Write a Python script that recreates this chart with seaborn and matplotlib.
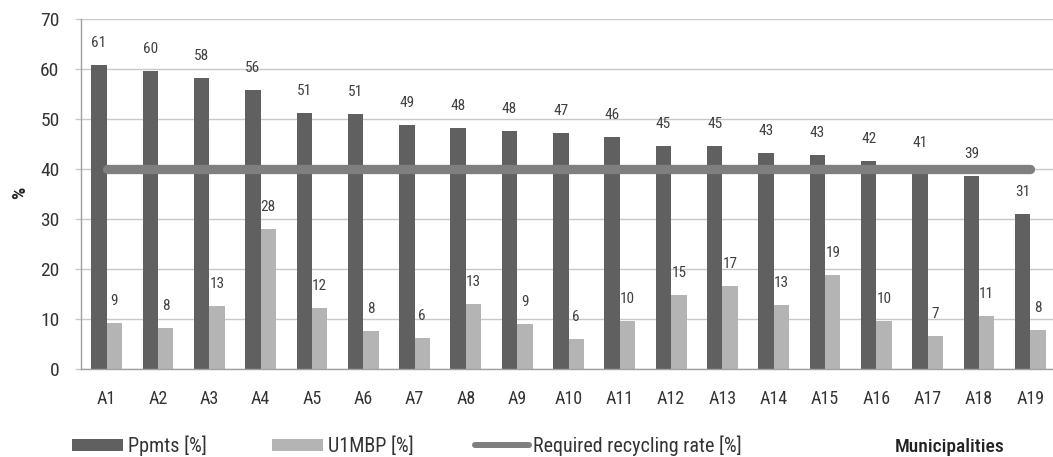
import numpy as np
import pandas as pd
import matplotlib
matplotlib.use("Agg")
import matplotlib.pyplot as plt
from matplotlib.patches import Patch
from matplotlib.lines import Line2D
import seaborn as sns

municipalities = [f"A{i}" for i in range(1, 20)]
ppmts = [60.9, 59.7, 58.2, 55.9, 51.3, 51.0, 48.9, 48.2, 47.7, 47.2,
         46.4, 44.7, 44.6, 43.3, 42.8, 41.6, 40.9, 38.6, 31.0]
u1mbp = [9.3, 8.2, 12.6, 28.1, 12.3, 7.6, 6.2, 13.1, 9.1, 6.0,
         9.7, 14.9, 16.6, 12.8, 18.9, 9.7, 6.6, 10.7, 7.9]
required_rate = [40] * len(municipalities)

series_names = ["Ppmts [%]", "U1MBP [%]"]
line_name = "Required recycling rate [%]"
dark, light, line_col = "#606060", "#b4b4b4", "#7f7f7f"

df = pd.DataFrame({
    "Municipality": municipalities * 2,
    "Series": [series_names[0]] * len(municipalities) + [series_names[1]] * len(municipalities),
    "Value": ppmts + u1mbp,
})

sns.set_theme(style="white")
plt.rcParams["font.family"] = ["Roboto Condensed", "Roboto", "DejaVu Sans"]

fig = plt.figure(figsize=(10.53, 4.57), dpi=100)
ax = fig.add_axes([81 / 1053, 88 / 457, 975 / 1053, 350 / 457])

sns.barplot(data=df, x="Municipality", y="Value", hue="Series",
            palette=[dark, light], width=0.6, saturation=1,
            linewidth=0, ax=ax, legend=False, zorder=2)

for cont in ax.containers:
    ax.bar_label(cont, fmt="%.0f", padding=10.5, fontsize=11, color="#404040")

sns.lineplot(x=np.arange(len(municipalities)), y=required_rate, color=line_col,
             linewidth=6.7, ax=ax, zorder=3, solid_capstyle="round")

ax.set_xlim(-0.5, len(municipalities) - 0.5)
ax.set_ylim(0, 70)
ax.set_yticks(range(0, 71, 10))
ax.yaxis.grid(True, color="#c8c8c8", linewidth=1)
ax.set_axisbelow(True)
for s in ["top", "right"]:
    ax.spines[s].set_visible(False)
for s in ["left", "bottom"]:
    ax.spines[s].set_color("#a0a0a0")
    ax.spines[s].set_linewidth(1)

ax.tick_params(axis="y", which="major", length=4.5, width=1, color="#c8c8c8",
               pad=11, labelsize=14, labelcolor="#333333", left=True)
ax.tick_params(axis="x", length=0, pad=15, labelsize=13, labelcolor="#333333")
ax.set_xlabel("")
ax.set_ylabel("")
fig.text(20 / 1053, 1 - 193 / 457, "%", rotation=90, ha="center", va="center",
         fontsize=14, fontweight="bold", color="#222222")

# bottom legend entries
fs = 14.5
common = dict(frameon=False, fontsize=fs, borderpad=0, borderaxespad=0,
              labelcolor="#333333", loc="lower left")
fig.legend(handles=[Patch(facecolor=dark, edgecolor="none", label=series_names[0])],
           bbox_to_anchor=(72 / 1053, 1 / 457), handlelength=2.55,
           handleheight=0.6, handletextpad=0.25, **common)
fig.legend(handles=[Patch(facecolor=light, edgecolor="none", label=series_names[1])],
           bbox_to_anchor=(272 / 1053, 1 / 457), handlelength=2.55,
           handleheight=0.6, handletextpad=0.25, **common)
fig.legend(handles=[Line2D([0], [0], color=line_col, linewidth=4.3,
                           solid_capstyle="round", label=line_name)],
           bbox_to_anchor=(475 / 1053, 1 / 457), handlelength=2.7,
           handletextpad=0.2, **common)
fig.text(950 / 1053, 1 - 447 / 457, "Municipalities", ha="center", va="center",
         fontsize=14, fontweight="medium", color="#222222")

fig.savefig("out.png", dpi=100)
